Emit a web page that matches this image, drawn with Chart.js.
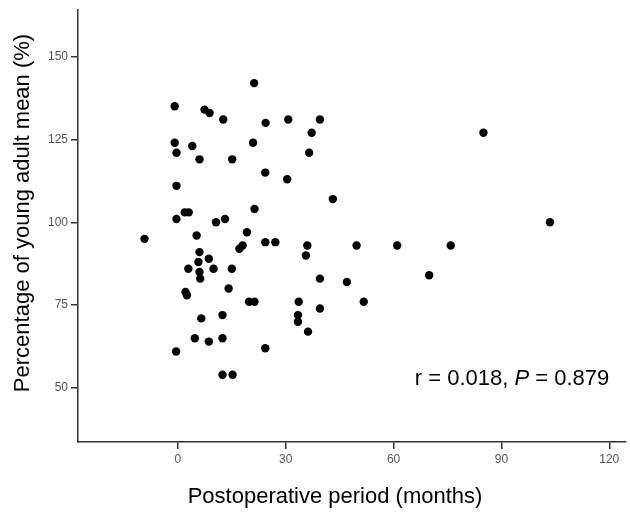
<!DOCTYPE html>
<html>
<head>
<meta charset="utf-8">
<script src="https://cdn.jsdelivr.net/npm/chart.js@4.4.1/dist/chart.umd.min.js"></script>
<style>
  html, body { margin: 0; padding: 0; background: #fff; }
  #wrap { width: 630px; height: 512px; }
</style>
</head>
<body>
<div id="wrap"><canvas id="chart" width="630" height="512"></canvas></div>
<script>
// postoperative period (months) and % of young adult mean
const monthsX = [
  21.2, -0.9, 7.4, 8.8, 12.6, 24.4, 30.7, 39.5, 37.2, -0.9,
  4.0, 20.9, -0.4, 6.0, 15.1, 36.5, 24.3, 30.4, -0.4, 43.1,
  21.3, 1.9, 3.0, -0.4, 10.6, 13.1, -9.3, 5.2, 19.2, 24.3,
  27.1, 17.1, 18.0, 36.0, 35.6, 6.0, 8.6, 5.7, 2.9, 9.9,
  15.0, 6.0, 6.2, 39.5, 47.0, 14.1, 2.1, 2.5, 19.8, 21.3,
  33.6, 39.5, 12.4, 33.4, 33.4, 6.5, 36.2, 4.7, 12.4, 8.6,
  24.3, -0.5, 12.4, 15.2, 85.0, 103.5, 49.7, 61.0, 75.9, 69.9,
  51.7
];
const percentY = [
  142, 135, 134, 133, 131, 130, 131, 131, 127, 124,
  123, 124, 121, 119, 119, 121, 115, 113, 111, 107,
  104, 103, 103, 101, 100, 101, 95, 96, 97, 94,
  94, 92, 93, 93, 90, 91, 89, 88, 86, 86,
  86, 85, 83, 83, 82, 80, 79, 78, 76, 76,
  76, 74, 72, 72, 70, 71, 67, 65, 65, 64,
  62, 61, 54, 54, 127, 100, 93, 93, 93, 84,
  76
];
const xTicks = [0, 30, 60, 90, 120];
const yTicks = [50, 75, 100, 125, 150];
const xTitle = "Postoperative period (months)";
const yTitle = "Percentage of young adult mean (%)";
const statParts = [
  { text: "r = 0.018, ", italic: false },
  { text: "P", italic: true },
  { text: " = 0.879", italic: false }
];

const FONT = "'Liberation Sans', Arial, sans-serif";
const points = monthsX.map((x, i) => ({ x: x, y: percentY[i] }));

// axis titles + the r / P note
const textPlugin = {
  id: "texts",
  afterDraw(chart) {
    const ctx = chart.ctx;
    const sx = chart.scales.x, sy = chart.scales.y;
    ctx.save();
    ctx.fillStyle = "#000";
    ctx.font = "22px " + FONT;
    ctx.textAlign = "center";
    ctx.textBaseline = "middle";
    ctx.fillText(xTitle, 335, 497);
    ctx.translate(23, 213);
    ctx.rotate(-Math.PI / 2);
    ctx.fillText(yTitle, 0, 0);
    ctx.restore();

    ctx.save();
    ctx.fillStyle = "#000";
    ctx.textAlign = "left";
    ctx.textBaseline = "alphabetic";
    let px = sx.getPixelForValue(65.9);
    const py = sy.getPixelForValue(50.8);
    statParts.forEach((p) => {
      ctx.font = (p.italic ? "italic " : "") + "22px " + FONT;
      ctx.fillText(p.text, px, py);
      px += ctx.measureText(p.text).width;
    });
    ctx.restore();
  }
};

new Chart(document.getElementById("chart"), {
  type: "scatter",
  data: {
    datasets: [{
      data: points,
      backgroundColor: "#000",
      borderWidth: 0,
      pointRadius: 4.2,
      pointHoverRadius: 4.2
    }]
  },
  plugins: [textPlugin],
  options: {
    responsive: false,
    animation: false,
    layout: { padding: { top: 9, right: 1, left: 0, bottom: 0 } },
    plugins: { legend: { display: false }, tooltip: { enabled: false } },
    scales: {
      x: {
        type: "linear",
        min: -27.8,
        max: 124.6,
        afterBuildTicks: (scale) => { scale.ticks = xTicks.map((v) => ({ value: v })); },
        afterFit: (scale) => { scale.height = 70; },
        grid: { display: true, drawOnChartArea: false, drawTicks: true, tickLength: 7, color: "#333", lineWidth: 1.5 },
        border: { display: true, color: "#333", width: 1.5 },
        ticks: { color: "#555", font: { family: FONT, size: 12 }, padding: 3, maxRotation: 0 }
      },
      y: {
        type: "linear",
        min: 33.7,
        max: 164,
        afterBuildTicks: (scale) => { scale.ticks = yTicks.map((v) => ({ value: v })); },
        afterFit: (scale) => { scale.width = 78; },
        grid: { display: true, drawOnChartArea: false, drawTicks: true, tickLength: 7, color: "#333", lineWidth: 1.5 },
        border: { display: true, color: "#333", width: 1.5 },
        ticks: { color: "#555", font: { family: FONT, size: 12 }, padding: 3 }
      }
    }
  }
});
</script>
</body>
</html>
